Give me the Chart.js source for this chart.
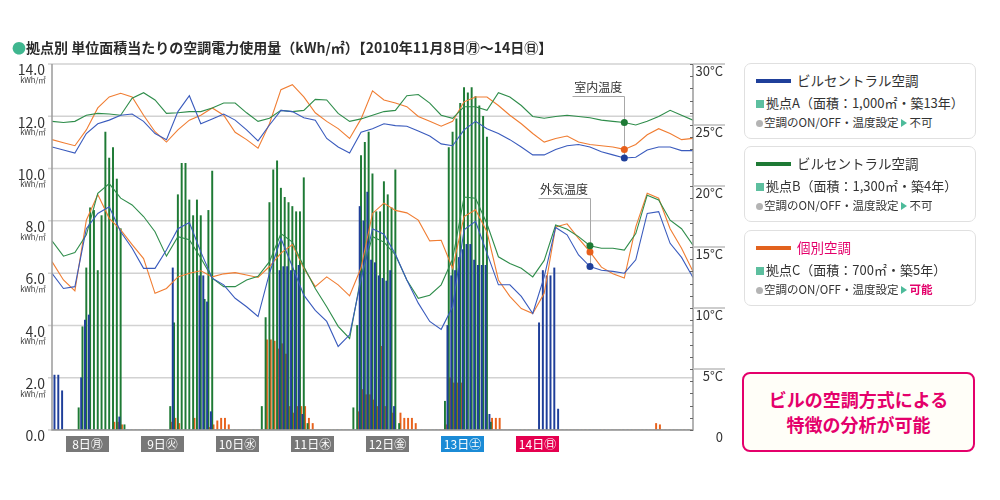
<!DOCTYPE html>
<html lang="ja">
<head>
<meta charset="utf-8">
<title>拠点別 単位面積当たりの空調電力使用量</title>
<script src="https://cdn.jsdelivr.net/npm/chart.js@4.4.1/dist/chart.umd.min.js"></script>
<style>
  html, body { margin: 0; padding: 0; background: #fff; }
  body { position: relative; width: 1000px; height: 500px; overflow: hidden;
         font-family: "Noto Sans CJK JP", "Noto Sans", sans-serif; color: #333; }
  #chart { position: absolute; left: 0; top: 0; }
  .title { position: absolute; left: 12px; top: 38px; font-size: 14px; font-weight: bold;
           color: #2a2a2a; white-space: nowrap; line-height: 18px; }
  .title .mark { color: #3fb68f; }
  .day { position: absolute; top: 436px; width: 43px; height: 16px; line-height: 16px;
         font-size: 12px; color: #fff; text-align: center; background: #787878; }
  .day.sat { background: #1b8bd6; }
  .day.sun { background: #e5004f; }
  .panel { position: absolute; left: 744px; width: 232px; height: 76px; box-sizing: border-box;
           border: 1px solid #e0e0e0; border-radius: 7px; background: #fff; }
  .panel .swatch { position: absolute; left: 11px; top: 15px; width: 35px; height: 4px; }
  .panel .name { position: absolute; left: 52px; top: 7px; font-size: 13.5px; line-height: 18px; white-space: nowrap; }
  .panel .site { position: absolute; left: 11px; top: 30px; font-size: 13px; line-height: 18px; white-space: nowrap; }
  .panel .site i { display: inline-block; width: 8px; height: 8px; background: #5dbf9f; margin-right: 2px; }
  .panel .ctrl { position: absolute; left: 11px; top: 50px; font-size: 11.5px; line-height: 16px; white-space: nowrap; }
  .panel .ctrl i { display: inline-block; width: 7px; height: 7px; border-radius: 50%; background: #b4b4b4; margin-right: 1px; }
  .panel .ctrl b { display: inline-block; width: 0; height: 0; border-left: 6px solid #4dbb9a;
                   border-top: 4px solid transparent; border-bottom: 4px solid transparent; margin: 0 2px 0 3px; }
  .pink { color: #e4006b; }
  .note { position: absolute; left: 742px; top: 372px; width: 233px; height: 80px; box-sizing: border-box;
          border: 2px solid #e4006b; border-radius: 8px; background: #fffef8; color: #e4006b;
          font-weight: bold; font-size: 18px; line-height: 25px; text-align: center; padding-top: 13px; }
</style>
</head>
<body>
<canvas id="chart" width="1000" height="500"></canvas>

<div class="title"><span class="mark">●</span>拠点別 単位面積当たりの空調電力使用量（kWh/㎡）【2010年11月8日㊊～14日㊐】</div>

<div class="day" style="left:66px">8日㊊</div>
<div class="day" style="left:141px">9日㊋</div>
<div class="day" style="left:216px">10日㊌</div>
<div class="day" style="left:291px">11日㊍</div>
<div class="day" style="left:366px">12日㊎</div>
<div class="day sat" style="left:441px">13日㊏</div>
<div class="day sun" style="left:516px">14日㊐</div>

<div class="panel" style="top:63px">
  <div class="swatch" style="background:#1f3f9a"></div>
  <div class="name">ビルセントラル空調</div>
  <div class="site"><i></i>拠点A（面積：1,000㎡・築13年）</div>
  <div class="ctrl"><i></i>空調のON/OFF・温度設定<b></b>不可</div>
</div>
<div class="panel" style="top:146px">
  <div class="swatch" style="background:#1e7a35"></div>
  <div class="name">ビルセントラル空調</div>
  <div class="site"><i></i>拠点B（面積：1,300㎡・築4年）</div>
  <div class="ctrl"><i></i>空調のON/OFF・温度設定<b></b>不可</div>
</div>
<div class="panel" style="top:230px">
  <div class="swatch" style="background:#e2621e"></div>
  <div class="name pink">個別空調</div>
  <div class="site"><i></i>拠点C（面積：700㎡・築5年）</div>
  <div class="ctrl"><i></i>空調のON/OFF・温度設定<b></b><span class="pink" style="font-weight:bold">可能</span></div>
</div>

<div class="note">ビルの空調方式による<br>特徴の分析が可能</div>

<script>
// hourly categories, 11/8 0:00 .. 11/14 23:00
const hours = Array.from({ length: 168 }, (_, i) => i);

// kWh/m2 per hour, one row per day (8th .. 14th)
const siteA = [
  0.2,2.1,2.1,1.5,0,0,0,0, 2.0,4.2,4.4,0,0,0,0,0, 0,0,0.5,0,0,0,0,0,
  0,0,0,0,0,0,0,0, 6.2,0,0,0,0,0,0,5.9, 5.9,4.9,0.7,0,0,0,0,0,
  0,0,0,0,0,0,0,0, 0,0,0,0,6.1,6.25,6.25,6.1, 6.1,6.3,0.6,0,0,0,0,0,
  0,0,0,0,0,0,0,0, 0,8.55,8.0,9.1,6.5,6.4,5.9,5.8, 5.7,6.1,0.9,0,0,0,0,0,
  0,0,0,0,0,0,0,0, 4.0,5.9,6.1,6.6,6.9,7.1,7.1,6.5, 6.3,6.3,6.3,0.6,0,0,0,0,
  0,0,0,0,0,0,0,0, 4.1,6.1,5.9,5.9,6.2,0.8,0,0, 0,0,0,0,0,0,0,0,
  0,0,0,0,0,0,0,0, 0,0,0,0,0,0,0,0, 0,0,0,0,0,0,0,0
];
const siteB = [
  0,0,0,0,0,0,0,0.85, 3.95,6.2,8.5,8.4,6.1,8.2,11.4,10.4, 10.8,9.6,7.7,0.2,0,0,0,0,
  0,0,0,0,0,0,0,0.9, 4.1,9.0,10.2,10.2,8.8,8.2,8.8,8.2, 5.0,8.4,9.9,0,0,0,0,0,
  0,0,0,0,0,0,0,0.9, 4.3,8.7,9.95,10.3,9.25,8.9,8.7,8.55, 8.35,8.35,9.65,0.25,0,0,0,0,
  0,0,0,0,0,0,0,0.85, 4.0,10.5,11.0,11.4,9.8,8.35,8.35,9.5, 9.0,8.5,9.95,0.25,0,0,0,0,
  0,0,0,0,0,0,0,1.1, 10.8,11.4,11.9,12.5,13.1,12.9,13.1,12.75, 12.4,12.0,11.2,0.3,0,0,0,0,
  0,0,0,0,0,0,0,0, 0,0,0,0,0,0,0,0, 0,0,0,0,0,0,0,0,
  0,0,0,0,0,0,0,0, 0,0,0,0,0,0,0,0, 0,0,0,0,0,0,0,0
];
const siteC = [
  0,0,0,0,0,0,0,0, 0,0,0,0,0,0,0,0, 0.3,0.3,0.2,0,0,0,0,0,
  0,0,0,0,0,0,0,0.3, 0.45,0.25,0,0,0,0.45,0,0, 0,0.1,0.2,0.35,0.45,0.45,0.2,0,
  0,0,0,0,0,0,0,0, 3.45,3.45,3.4,3.1,3.3,2.9,0.9,0.65, 0.9,0.9,0.9,0.45,0.25,0,0,0,
  0,0,0,0,0,0,0,0, 0.7,1.55,1.35,1.35,1.15,0.9,3.2,0.9, 0,0.65,0,0.65,0.45,0.45,0.45,0.25,
  0,0,0,0,0,0,0,0.2, 2.0,1.8,1.8,1.8,0,0,0,0, 0,0,0,0.45,0.45,0.45,0,0,
  0,0,0,0,0,0,0,0, 0,0,0,0,0,0,0,0, 0,0,0,0,0,0,0,0,
  0,0,0,0,0,0,0,0, 0,0,0,0,0,0,0.25,0.2, 0,0,0,0,0,0,0,0
];

// temperatures (°C), read every 3 hours
const lineHours = [0,3,6,9,12,15,18,21,24,27,30,33,36,39,42,45,48,51,54,57,60,63,66,69,72,75,78,81,
  84,87,90,93,96,99,102,105,108,111,114,117,120,123,126,129,132,135,138,141,144,147,150,153,156,159,162,165,168];
const indoorA = [23.2,22.95,22.7,24.3,25.1,25.4,25.8,25.9,25.3,24.3,23.8,26.1,27.4,25.1,25.5,25.9,25.4,24.6,23.7,25.0,
  26.2,26.1,25.6,25.4,23.9,23.2,22.7,24.4,24.7,25.1,24.95,24.9,24.5,24.1,23.45,23.3,24.6,25.3,24.7,24.3,
  23.8,23.2,22.55,22.55,23.0,23.3,23.4,23.2,22.8,22.55,22.3,22.35,22.95,23.2,23.2,22.9,22.9];
const indoorB = [25.3,25.2,25.3,25.8,25.95,25.9,25.8,27.2,27.65,27.05,25.95,26.0,26.1,26.1,26.4,26.8,26.8,26.0,25.3,25.55,
  26.2,26.1,26.2,27.1,27.05,25.95,25.3,25.5,25.8,26.1,26.2,27.4,27.5,26.8,25.8,25.55,26.5,26.5,26.2,27.65,
  27.3,26.6,25.7,25.55,25.7,25.8,25.7,25.6,25.4,25.3,25.2,25.0,25.3,25.7,26.2,25.8,25.4];
const indoorC = [23.8,23.55,23.3,24.6,26.4,27.3,27.6,27.3,25.8,24.45,23.6,24.6,25.4,25.8,26.4,25.8,24.4,23.8,23.1,25.1,
  27.9,28.3,27.3,26.0,25.3,24.7,23.9,25.5,27.8,27.05,26.8,26.5,25.7,25.3,24.9,25.3,26.9,27.3,27.3,26.6,
  25.8,25.1,24.3,23.6,23.9,24.1,23.6,23.4,23.3,23.2,23.0,23.4,24.2,24.7,24.3,23.8,23.9];
const outdoorA = [12.85,11.6,11.75,16.5,17.75,18.3,16.25,14.9,13.25,13.25,14.75,16.5,17.0,14.6,12.45,11.9,10.8,10.1,9.3,12.85,
  15.7,13.4,11.05,9.8,8.9,6.85,7.8,12.3,16.5,16.05,14.4,12.3,10.4,8.9,8.25,10.1,16.4,17.1,14.5,11.9,
  11.9,10.95,9.55,12.55,16.6,16.0,14.35,13.4,13.1,13.0,12.85,13.95,17.75,17.9,15.3,14.15,12.5];
const outdoorB = [15.5,14.25,14.55,16.0,19.4,20.2,19.0,18.45,17.5,16.25,14.25,15.85,15.6,14.1,12.45,11.75,11.75,12.3,12.6,13.8,
  16.1,15.4,13.4,11.6,10.1,8.5,7.5,12.6,15.85,15.4,14.35,12.3,10.8,11.05,11.9,14.0,19.1,19.0,16.9,14.2,
  13.65,13.25,12.55,13.9,16.8,16.45,15.85,15.1,14.9,14.9,14.75,16.1,19.25,18.85,17.2,16.5,15.15];
const outdoorC = [13.8,12.3,11.4,17.2,19.3,17.35,16.4,15.2,14.05,11.2,11.6,12.55,12.85,13.05,12.55,12.8,12.9,12.7,12.5,13.4,
  14.5,15.2,13.25,11.75,12.55,11.9,11.0,13.3,17.75,18.6,18.0,17.8,17.2,15.5,15.55,13.25,17.5,18.05,16.25,12.3,
  10.95,9.95,9.55,11.2,16.65,16.9,15.7,14.6,13.35,12.8,12.45,16.65,19.4,19.0,16.5,14.9,13.0];

// axis ticks
const kwhTicks = [0, 2, 4, 6, 8, 10, 12, 14];
const kwhLabels = ['0.0', '2.0', '4.0', '6.0', '8.0', '10.0', '12.0', '14.0'];
const tempTicks = [0, 5, 10, 15, 20, 25, 30];
const tempLabels = ['0', '5°C', '10°C', '15°C', '20°C', '25°C', '30°C'];

// callouts: label text, marked hour, label height in °C
const callouts = [
  { text: '室内温度', hour: 150, labelTemp: 27.4, sets: [3, 4, 5] },
  { text: '外気温度', hour: 141, labelTemp: 19.0, sets: [6, 7, 8] }
];

const FONT = '"Noto Sans CJK JP", "Noto Sans", sans-serif';

function barSet(label, data, color) {
  return { type: 'bar', label, data, backgroundColor: color, barThickness: 1.3,
           xAxisID: 'x', yAxisID: 'y', order: 2 };
}
function lineSet(label, vals, color, dot, markHour) {
  const mark = lineHours.indexOf(markHour);
  return {
    type: 'line', label, xAxisID: 'x2', yAxisID: 'y1', order: 1,
    data: vals.map((v, k) => ({ x: lineHours[k], y: v })),
    borderColor: color, borderWidth: 1.1, tension: 0,
    pointRadius: c => (c.dataIndex === mark ? 3.5 : 0),
    pointBackgroundColor: dot, pointBorderWidth: 0
  };
}

const decor = {
  id: 'decor',
  beforeDatasetsDraw(chart) {
    const { ctx, chartArea: a, scales: { y, y1 } } = chart;
    ctx.save();
    ctx.strokeStyle = '#d2d2d2';
    ctx.lineWidth = 1.5;
    kwhTicks.forEach(v => {
      const py = y.getPixelForValue(v);
      ctx.beginPath(); ctx.moveTo(a.left - 4, py); ctx.lineTo(a.right, py); ctx.stroke();
    });
    ctx.strokeStyle = '#a8a8a8';
    ctx.lineWidth = 1;
    callouts.forEach(c => {
      const k = lineHours.indexOf(c.hour);
      const pts = c.sets.map(i => chart.getDatasetMeta(i).data[k]);
      const px = Math.round(pts[0].x) + 0.5;
      const bottom = Math.max(...pts.map(p => p.y));
      const ly = Math.round(y1.getPixelForValue(c.labelTemp)) + 0.5;
      ctx.beginPath(); ctx.moveTo(px - 52, ly); ctx.lineTo(px, ly); ctx.lineTo(px, bottom); ctx.stroke();
    });
    ctx.restore();
  },
  afterDatasetsDraw(chart) {
    const { ctx, chartArea: a, scales: { y, y1 } } = chart;
    ctx.save();
    ctx.strokeStyle = '#9a9a9a';
    ctx.lineWidth = 1.5;
    ctx.beginPath();
    ctx.moveTo(a.left, a.top); ctx.lineTo(a.left, a.bottom); ctx.lineTo(a.right, a.bottom); ctx.lineTo(a.right, a.top);
    ctx.stroke();

    // right axis: minor ticks every 1°C, longer marks at labels
    ctx.lineWidth = 1;
    ctx.strokeStyle = '#666';
    for (let t = 0; t <= 30; t++) {
      const py = Math.round(y1.getPixelForValue(t)) + 0.5;
      ctx.beginPath(); ctx.moveTo(a.right - 3, py); ctx.lineTo(a.right, py); ctx.stroke();
    }
    ctx.strokeStyle = '#bdbdbd';
    ctx.lineWidth = 1.5;
    tempTicks.forEach(t => {
      if (t === 0) return;
      const py = y1.getPixelForValue(t);
      ctx.beginPath(); ctx.moveTo(a.right, py); ctx.lineTo(a.right + 32, py); ctx.stroke();
    });

    ctx.fillStyle = '#333';
    ctx.textBaseline = 'middle';
    ctx.textAlign = 'right';
    ctx.font = '13px ' + FONT;
    tempTicks.forEach((t, i) => ctx.fillText(tempLabels[i], a.right + 30, y1.getPixelForValue(t) + 7));

    kwhTicks.forEach((v, i) => {
      const py = y.getPixelForValue(v);
      ctx.textAlign = 'right';
      ctx.font = '14px ' + FONT;
      ctx.fillText(kwhLabels[i], a.left - 7, py + 6);
      if (v > 0) {
        ctx.textAlign = 'center';
        ctx.font = '7.5px ' + FONT;
        ctx.fillText('kWh/㎡', a.left - 19, py + 16);
      }
    });

    ctx.font = '12px ' + FONT;
    ctx.textAlign = 'left';
    ctx.textBaseline = 'alphabetic';
    callouts.forEach(c => {
      const k = lineHours.indexOf(c.hour);
      const px = chart.getDatasetMeta(c.sets[0]).data[k].x;
      ctx.fillText(c.text, px - 50, y1.getPixelForValue(c.labelTemp) - 4);
    });
    ctx.restore();
  }
};

new Chart(document.getElementById('chart'), {
  type: 'bar',
  data: {
    labels: hours,
    datasets: [
      barSet('拠点A', siteA, '#1f3f9a'),
      barSet('拠点B', siteB, '#1e7a35'),
      barSet('拠点C', siteC, '#e8621c'),
      lineSet('拠点A 室内温度', indoorA, '#3a5bbd', '#1f3f9a', 150),
      lineSet('拠点B 室内温度', indoorB, '#2f8d4b', '#1e7a35', 150),
      lineSet('拠点C 室内温度', indoorC, '#f07d32', '#e8601c', 150),
      lineSet('拠点A 外気温度', outdoorA, '#3a5bbd', '#1f3f9a', 141),
      lineSet('拠点B 外気温度', outdoorB, '#2f8d4b', '#1e7a35', 141),
      lineSet('拠点C 外気温度', outdoorC, '#f07d32', '#e8601c', 141)
    ]
  },
  options: {
    responsive: false,
    animation: false,
    devicePixelRatio: 1,
    events: [],
    layout: { padding: { left: 52, right: 307, top: 64, bottom: 70 } },
    plugins: { legend: { display: false }, tooltip: { enabled: false } },
    scales: {
      x: { type: 'category', display: false, offset: true },
      x2: { type: 'linear', display: false, min: 0, max: 168, offset: false },
      y: { display: false, min: 0, max: 14 },
      y1: { display: false, min: 0, max: 30 }
    }
  },
  plugins: [decor]
});
</script>
</body>
</html>
